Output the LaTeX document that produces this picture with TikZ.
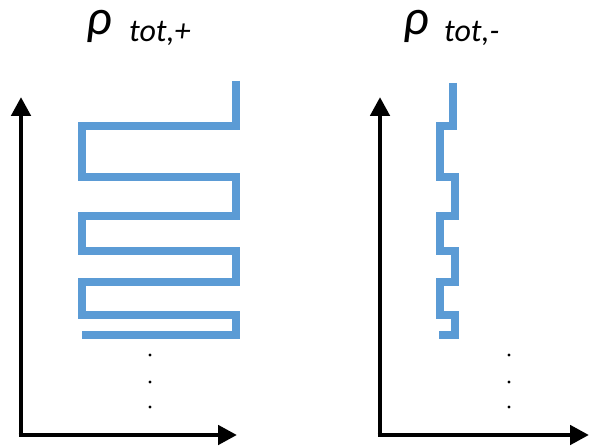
\documentclass[tikz,border=0pt]{standalone}
\usepackage{fontspec}
\setmainfont{Carlito}
\usetikzlibrary{arrows.meta}
\definecolor{zzblue}{HTML}{5B9BD5}
\tikzset{
  axisline/.style={line width=4.8pt, -{Triangle[length=19pt,width=19pt]}},
  zigzag/.style={zzblue, line width=7.5pt, line join=miter, line cap=butt},
  rholabel/.style={inner sep=0pt, anchor=base west, text height=20pt, text depth=10pt, font=\fontsize{50}{50}\selectfont\itshape},
  sublabel/.style={inner sep=0pt, anchor=base west, font=\fontsize{32}{32}\selectfont\itshape},
  dotmark/.style={fill=black, circle, inner sep=0pt, minimum size=3.2pt}
}
\begin{document}
\begin{tikzpicture}[x=1pt,y=-1pt]
\useasboundingbox (0,0) rectangle (589,446);
% titles
\node[rholabel] (rhoL) at (86,35) {ρ};
\node[sublabel] (subL) at (129,42) {tot,+};
\node[rholabel] (rhoR) at (403,35) {ρ};
\node[sublabel] (subR) at (444,42) {tot,-};
% axes left
\coordinate (oL) at (21,435);
\coordinate (yL) at (21,97);
\coordinate (xL) at (237,435);
\draw[axisline] ([yshift=2.4pt]oL) -- (yL);
\draw[axisline] ([xshift=-2.4pt]oL) -- (xL);
% axes right
\coordinate (oR) at (380,435);
\coordinate (yR) at (380,97);
\coordinate (xR) at (589,435);
\draw[axisline] ([yshift=2.4pt]oR) -- (yR);
\draw[axisline] ([xshift=-2.4pt]oR) -- (xR);
% left zigzag
\draw[zigzag] (236,81) -- (236,126) -- (82,126) -- (82,177) -- (236,177) -- (236,216)
  -- (82,216) -- (82,251) -- (236,251) -- (236,282) -- (82,282) -- (82,315)
  -- (236,315) -- (236,335) -- (82,335);
% right zigzag
\draw[zigzag] (453,83) -- (453,126) -- (440,126) -- (440,177) -- (455,177) -- (455,216)
  -- (440,216) -- (440,251) -- (455,251) -- (455,282) -- (440,282) -- (440,315)
  -- (455,315) -- (455,335) -- (439,335);
% dots
\node[dotmark] (dL1) at (150,355) {};
\node[dotmark] (dL2) at (150,382) {};
\node[dotmark] (dL3) at (150,407) {};
\node[dotmark] (dR1) at (509,355) {};
\node[dotmark] (dR2) at (509,382) {};
\node[dotmark] (dR3) at (509,407) {};
\end{tikzpicture}
\end{document}
